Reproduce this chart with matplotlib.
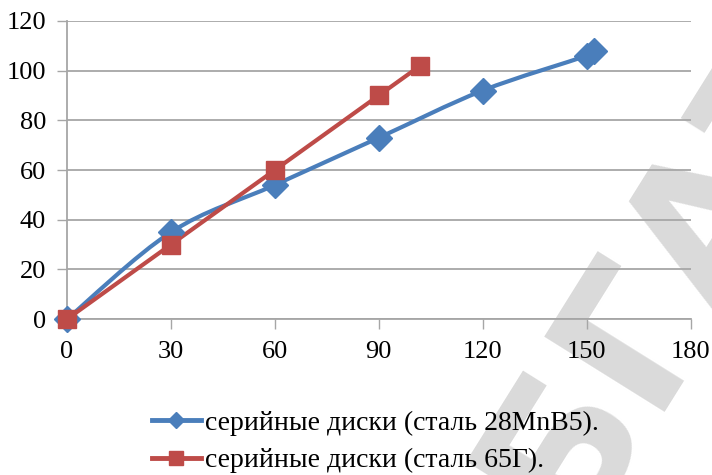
import numpy as np
import matplotlib.pyplot as plt
from matplotlib.path import Path
from matplotlib.patches import PathPatch
from matplotlib.lines import Line2D

# values
blue_x = [0, 30, 60, 90, 120, 150, 152]
blue_y = [0, 35, 54, 73, 92, 106, 108]
red_x = [0, 30, 60, 90, 102]
red_y = [0, 30, 60, 90, 102]
blue_label = 'серийные диски (сталь 28MnB5).'
red_label = 'серийные диски (сталь 65Г).'
x_ticks = [0, 30, 60, 90, 120, 150, 180]
y_ticks = [0, 20, 40, 60, 80, 100, 120]

blue = '#4a7ebb'
red = '#be4b48'
grid_col = '#a6a6a6'

plt.rcParams['font.family'] = ['Liberation Serif', 'DejaVu Serif']


def smooth_path(xs, ys):
    # excel style smoothed line: cubic bezier through the points
    pts = np.column_stack([xs, ys]).astype(float)
    n = len(pts)
    verts = [pts[0]]
    codes = [Path.MOVETO]
    for i in range(n - 1):
        p0 = pts[i - 1] if i > 0 else pts[i]
        p1 = pts[i]
        p2 = pts[i + 1]
        p3 = pts[i + 2] if i + 2 < n else pts[i + 1]
        c1 = p1 + (p2 - p0) / 6.0
        c2 = p2 - (p3 - p1) / 6.0
        verts += [c1, c2, p2]
        codes += [Path.CURVE4] * 3
    return Path(verts, codes)


fig = plt.figure(figsize=(7.12, 4.75), dpi=100)

# watermark behind the chart
fig.text(0.80, -0.13, 'БГАТУ', fontsize=140, color='#dadada', rotation=58,
         fontfamily='DejaVu Sans', fontweight='bold', ha='left',
         va='baseline', rotation_mode='anchor', zorder=-5)

ax = fig.add_axes([0.094, 0.328, 0.876, 0.628])
ax.patch.set_alpha(0)

for xs, ys, col, mk, ms in [(blue_x, blue_y, blue, 'D', 13),
                            (red_x, red_y, red, 's', 13)]:
    ax.add_patch(PathPatch(smooth_path(xs, ys), fill=False, edgecolor=col,
                           lw=3, capstyle='round', zorder=3))
    ax.plot(xs, ys, ls='none', marker=mk, ms=ms, color=col, zorder=4,
            clip_on=False)

ax.set_xlim(0, 180)
ax.set_ylim(0, 120)
ax.set_xticks(x_ticks)
ax.set_yticks(y_ticks)
ax.tick_params(labelsize=19, labelcolor='black', color=grid_col,
               length=7, width=1)
ax.tick_params(axis='x', pad=9)
ax.tick_params(axis='y', pad=8)
ax.yaxis.grid(True, color=grid_col, lw=1.3)
ax.set_axisbelow(True)
for s in ['top', 'right']:
    ax.spines[s].set_visible(False)
for s in ['left', 'bottom']:
    ax.spines[s].set_color(grid_col)
    ax.spines[s].set_linewidth(1.3)

handles = [Line2D([], [], color=blue, lw=3.5, marker='D', ms=8),
           Line2D([], [], color=red, lw=3.5, marker='s', ms=10)]
fig.legend(handles, [blue_label, red_label], loc='center left',
           bbox_to_anchor=(152 / 712, 0.07), frameon=False, fontsize=20,
           handlelength=1.75, handletextpad=0.15, labelspacing=0.45,
           borderaxespad=0, borderpad=0)

fig.savefig('out.png', dpi=100)
